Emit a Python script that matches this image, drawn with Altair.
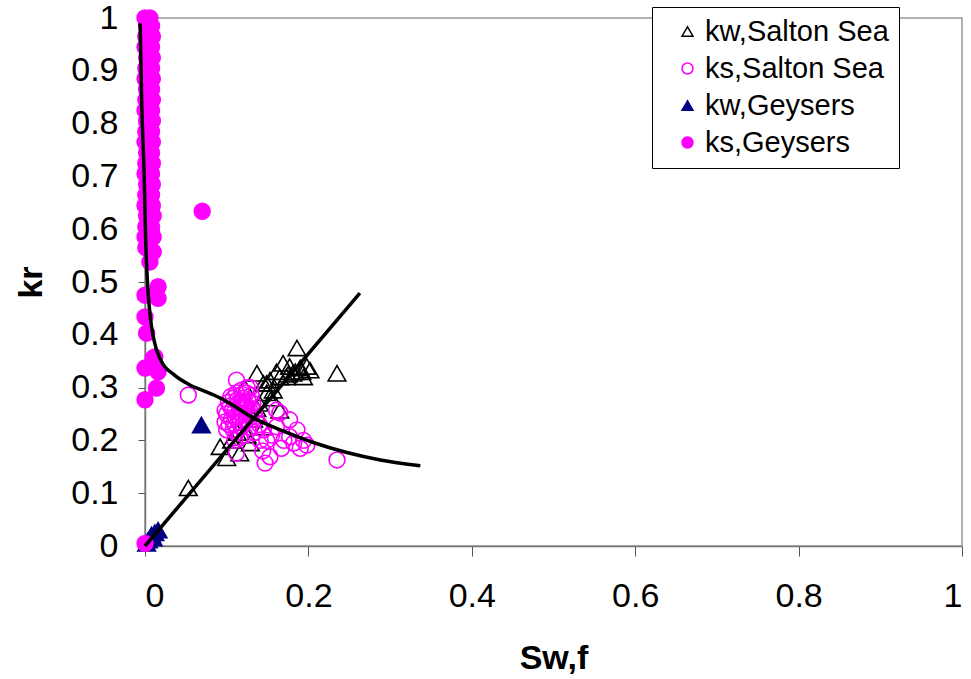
import altair as alt
import pandas as pd

series = ["kw,Salton Sea", "ks,Salton Sea", "kw,Geysers", "ks,Geysers"]

# kw, Salton Sea (open black triangles)
kw_ss_x = [0.053, 0.100, 0.092, 0.106, 0.116, 0.129, 0.113, 0.125, 0.137, 0.122, 0.145, 0.149,
           0.153, 0.157, 0.137, 0.165, 0.149, 0.161, 0.169, 0.173, 0.177, 0.181, 0.186, 0.190,
           0.194, 0.198, 0.202, 0.184, 0.235, 0.165, 0.140, 0.133, 0.155, 0.145, 0.175, 0.192]
kw_ss_y = [0.110, 0.167, 0.188, 0.200, 0.176, 0.195, 0.215, 0.210, 0.327, 0.300, 0.308, 0.290,
           0.314, 0.295, 0.260, 0.320, 0.308, 0.330, 0.346, 0.320, 0.340, 0.327, 0.375, 0.337,
           0.320, 0.340, 0.333, 0.330, 0.327, 0.257, 0.270, 0.240, 0.280, 0.225, 0.325, 0.330]

# ks, Salton Sea (open magenta circles)
ks_ss_x = [0.053, 0.235, 0.147, 0.167, 0.190, 0.198, 0.177, 0.186, 0.165, 0.161, 0.141, 0.177,
           0.194, 0.112, 0.129, 0.098, 0.100, 0.112, 0.161, 0.149, 0.153, 0.145, 0.144, 0.155,
           0.170, 0.182,
           0.100, 0.104, 0.108, 0.112, 0.118, 0.124, 0.130, 0.106, 0.110, 0.114, 0.120, 0.126,
           0.132, 0.103, 0.108, 0.114, 0.118, 0.122, 0.128, 0.134, 0.112, 0.118, 0.124, 0.130,
           0.136, 0.110, 0.116, 0.122, 0.128, 0.140, 0.118, 0.125, 0.098, 0.134, 0.115,
           0.102, 0.107, 0.111, 0.116, 0.121, 0.127, 0.105, 0.113, 0.119, 0.125, 0.131, 0.109]
ks_ss_y = [0.286, 0.163, 0.157, 0.185, 0.185, 0.191, 0.207, 0.220, 0.252, 0.226, 0.200, 0.239,
           0.200, 0.314, 0.300, 0.257, 0.220, 0.176, 0.257, 0.200, 0.169, 0.220, 0.180, 0.210,
           0.200, 0.195,
           0.250, 0.265, 0.280, 0.290, 0.295, 0.290, 0.285, 0.240, 0.255, 0.270, 0.280, 0.275,
           0.270, 0.230, 0.220, 0.235, 0.250, 0.262, 0.258, 0.255, 0.215, 0.225, 0.240, 0.245,
           0.240, 0.200, 0.205, 0.210, 0.225, 0.230, 0.270, 0.300, 0.235, 0.215, 0.245,
           0.272, 0.258, 0.244, 0.262, 0.268, 0.250, 0.283, 0.277, 0.287, 0.265, 0.260, 0.232]

# kw, Geysers (filled navy triangles)
kw_g_x = [0.069, 0.016, 0.008, 0.004, 0.012, 0.002, 0.010]
kw_g_y = [0.229, 0.030, 0.021, 0.011, 0.025, 0.005, 0.015]

# ks, Geysers (filled magenta circles)
ks_g_x = [0.000, 0.006, 0.002, 0.008, 0.001, 0.009, 0.000, 0.008, 0.002, 0.009, 0.001, 0.008,
          0.000, 0.009, 0.002, 0.008, 0.001, 0.009, 0.000, 0.008, 0.002, 0.009, 0.001, 0.008,
          0.000, 0.009, 0.002, 0.008, 0.001, 0.009, 0.000, 0.008, 0.002, 0.009, 0.001, 0.008,
          0.000, 0.009, 0.002, 0.010, 0.001, 0.008, 0.000, 0.010, 0.001, 0.006,
          0.008, 0.010, 0.006, 0.016, 0.000, 0.016, 0.000, 0.002, 0.012, 0.010, 0.000, 0.016,
          0.014, 0.000, 0.070, 0.000]
ks_g_y = [1.000, 1.000, 0.985, 0.985, 0.965, 0.965, 0.945, 0.945, 0.925, 0.925, 0.905, 0.905,
          0.885, 0.885, 0.865, 0.865, 0.845, 0.845, 0.825, 0.825, 0.805, 0.805, 0.785, 0.785,
          0.765, 0.765, 0.745, 0.745, 0.725, 0.725, 0.705, 0.705, 0.685, 0.685, 0.665, 0.665,
          0.645, 0.645, 0.625, 0.625, 0.605, 0.605, 0.585, 0.585, 0.565, 0.565,
          0.595, 0.557, 0.538, 0.491, 0.475, 0.469, 0.434, 0.403, 0.358, 0.356, 0.337, 0.330,
          0.299, 0.277, 0.634, 0.005]

# fitted curves
ks_curve_x = [-0.006, -0.004, -0.001, 0.001, 0.003, 0.006, 0.011, 0.020, 0.035, 0.055, 0.075,
              0.095, 0.110, 0.132, 0.169, 0.206, 0.247, 0.288, 0.337]
ks_curve_y = [0.990, 0.840, 0.700, 0.570, 0.500, 0.440, 0.390, 0.350, 0.325, 0.305, 0.292,
              0.278, 0.264, 0.243, 0.218, 0.196, 0.177, 0.163, 0.152]
kw_curve_x = [0.0, 0.263]
kw_curve_y = [0.0, 0.479]

x_ticks = [0, 0.2, 0.4, 0.6, 0.8, 1]
y_ticks = [0, 0.1, 0.2, 0.3, 0.4, 0.5, 0.6, 0.7, 0.8, 0.9, 1]

rows = []
for name, xs, ys in [(series[0], kw_ss_x, kw_ss_y), (series[1], ks_ss_x, ks_ss_y),
                     (series[2], kw_g_x, kw_g_y), (series[3], ks_g_x, ks_g_y)]:
    for a, b in zip(xs, ys):
        rows.append({"x": a, "y": b, "series": name})
pts = pd.DataFrame(rows)

lines = pd.DataFrame(
    [{"x": a, "y": b, "curve": "ks"} for a, b in zip(ks_curve_x, ks_curve_y)]
    + [{"x": a, "y": b, "curve": "kw"} for a, b in zip(kw_curve_x, kw_curve_y)]
)

FONT = "Liberation Sans"

xscale = alt.Scale(domain=[0, 1], nice=False, zero=False)
yscale = alt.Scale(domain=[0, 1], nice=False, zero=False)

xaxis = alt.Axis(values=x_ticks, format="~g", grid=False, title="Sw,f",
                 labelFont=FONT, labelFontSize=34, labelColor="black", labelPadding=23,
                 tickSize=10, tickColor="#555", domainColor="#777", domainWidth=1.5,
                 titleFont=FONT, titleFontSize=34, titleFontWeight="bold", titleColor="black",
                 titlePadding=28)
yaxis = alt.Axis(values=y_ticks, format="~g", grid=False, title="kr",
                 labelFont=FONT, labelFontSize=34, labelColor="black", labelPadding=20,
                 tickSize=7, tickColor="#555", domainColor="#777", domainWidth=1.5,
                 titleFont=FONT, titleFontSize=34, titleFontWeight="bold", titleColor="black",
                 titlePadding=22)

leg = alt.Legend(title=None, orient="none", legendX=507, legendY=-11,
                 labelFont=FONT, labelFontSize=29, labelColor="black", labelLimit=400,
                 symbolSize=120, symbolStrokeWidth=1.5, strokeColor="black", fillColor="white",
                 padding=10, rowPadding=7, symbolOffset=11, labelOffset=3)

enc = dict(
    x=alt.X("x:Q", scale=xscale, axis=xaxis),
    y=alt.Y("y:Q", scale=yscale, axis=yaxis),
    shape=alt.Shape("series:N", sort=series, legend=leg,
                    scale=alt.Scale(domain=series,
                                    range=["triangle-up", "circle", "triangle-up", "circle"])),
    stroke=alt.Stroke("series:N", sort=series, legend=leg,
                      scale=alt.Scale(domain=series,
                                      range=["black", "#FF00FF", "#000080", "#FF00FF"])),
    fill=alt.Fill("series:N", sort=series, legend=leg,
                  scale=alt.Scale(domain=series,
                                  range=["transparent", "transparent", "#000080", "#FF00FF"])),
)

base = alt.Chart(pts)
tri = base.transform_filter(
    alt.FieldOneOfPredicate(field="series", oneOf=[series[0], series[2]])
).mark_point(opacity=1, strokeWidth=1.6, size=310, clip=False).encode(**enc)
circ = base.transform_filter(
    alt.FieldOneOfPredicate(field="series", oneOf=[series[1], series[3]])
).mark_point(opacity=1, strokeWidth=1.6, size=250, clip=False).encode(**enc)

curves = alt.Chart(lines).mark_line(color="black", strokeWidth=3.5, interpolate="monotone",
                                     clip=False).encode(
    x=alt.X("x:Q", scale=xscale, axis=xaxis),
    y=alt.Y("y:Q", scale=yscale, axis=yaxis),
    detail="curve:N",
)

chart = alt.layer(tri, circ, curves).properties(
    width=817, height=528,
    autosize=alt.AutoSizeParams(type="none"),
    padding={"left": 145, "top": 18, "right": 9, "bottom": 133},
    background="white",
).configure_view(stroke="#999", strokeWidth=1.5)

chart.save("out.html", embed_options={"renderer": "svg", "actions": False})
